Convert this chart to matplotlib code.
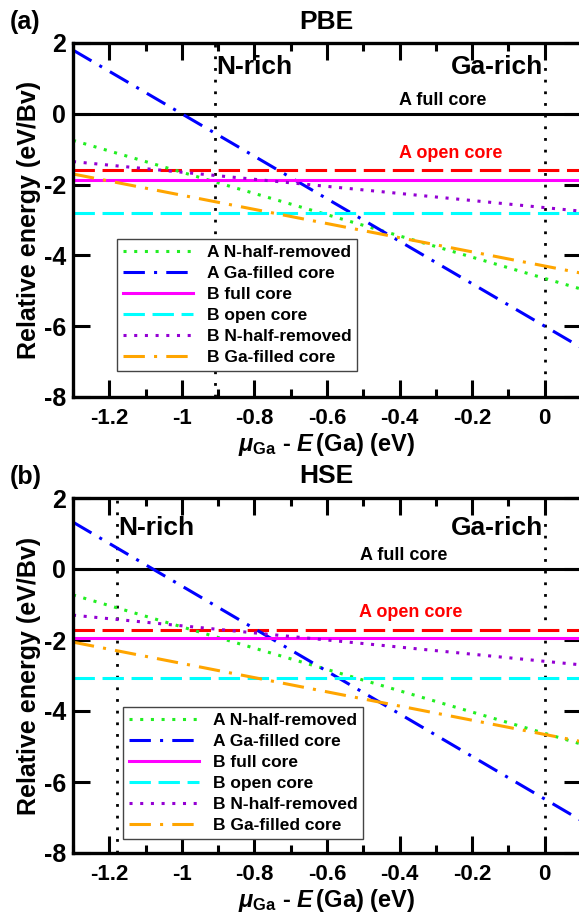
import numpy as np
import matplotlib
matplotlib.use("Agg")
import matplotlib.pyplot as plt
from matplotlib.ticker import MultipleLocator, FixedLocator

plt.rcParams['font.family'] = ['Liberation Sans', 'DejaVu Sans']
plt.rcParams['font.weight'] = 'bold'
plt.rcParams['axes.labelweight'] = 'bold'
plt.rcParams['axes.unicode_minus'] = False
plt.rcParams['mathtext.fontset'] = 'custom'
plt.rcParams['mathtext.rm'] = 'Liberation Sans:bold'
plt.rcParams['mathtext.bf'] = 'Liberation Sans:bold'
plt.rcParams['mathtext.it'] = 'Liberation Sans:italic'
plt.rcParams['mathtext.bfit'] = 'Liberation Sans:italic:bold'

# x range of the lines (chemical potential, eV)
x_ends = [-1.3, 0.1]

# PBE: energies at x = -1.3 and x = 0.1
pbe_a_full = [0.0, 0.0]
pbe_a_open = [-1.6, -1.6]
pbe_a_nhalf = [-0.75, -4.95]
pbe_a_gafill = [1.8, -6.6]
pbe_b_full = [-1.87, -1.87]
pbe_b_open = [-2.79, -2.79]
pbe_b_nhalf = [-1.35, -2.75]
pbe_b_gafill = [-1.7, -4.5]
pbe_nrich = -0.91

# HSE
hse_a_full = [0.0, 0.0]
hse_a_open = [-1.72, -1.72]
hse_a_nhalf = [-0.73, -4.93]
hse_a_gafill = [1.32, -7.08]
hse_b_full = [-1.93, -1.93]
hse_b_open = [-3.08, -3.08]
hse_b_nhalf = [-1.3, -2.7]
hse_b_gafill = [-2.06, -4.86]
hse_nrich = -1.18

x_ticks = [-1.2, -1.0, -0.8, -0.6, -0.4, -0.2, 0.0]
x_ticklabels = ['-1.2', '-1', '-0.8', '-0.6', '-0.4', '-0.2', '0']
y_ticks = [-8, -6, -4, -2, 0, 2]

lw = 2.2
dot = (0, (1, 2.5))
dash = (0, (7, 2.5))
dashdot = (0, (7, 3, 1, 3))

fig = plt.figure(figsize=(5.79, 9.15), dpi=100)
W, H = 579.0, 915.0


def panel(ax, d, nrich, full_xy, open_xy, nrich_xy, garich_xy, legend_pos):
    a_full, a_open, a_nhalf, a_gafill, b_full, b_open, b_nhalf, b_gafill = d
    ax.axvline(nrich, color='black', lw=2.0, ls=(0, (1, 3.2)))
    ax.axvline(0.0, color='black', lw=2.0, ls=(0, (1, 3.2)))
    ax.plot(x_ends, a_full, color='black', lw=lw, ls='-')
    ax.plot(x_ends, a_open, color='#ff0000', lw=lw, ls=dash)
    ax.plot(x_ends, a_nhalf, color='#22ee22', lw=lw, ls=dot, label='A N-half-removed')
    ax.plot(x_ends, a_gafill, color='#0000ff', lw=lw, ls=dashdot, label='A Ga-filled core')
    ax.plot(x_ends, b_full, color='#ff00ff', lw=lw, ls='-', label='B full core')
    ax.plot(x_ends, b_open, color='#00ffff', lw=lw, ls=dash, label='B open core')
    ax.plot(x_ends, b_nhalf, color='#9400d3', lw=lw, ls=dot, label='B N-half-removed')
    ax.plot(x_ends, b_gafill, color='#ffa500', lw=lw, ls=dashdot, label='B Ga-filled core')

    ax.text(full_xy[0], full_xy[1], 'A full core', fontsize=13, ha='center', va='center')
    ax.text(open_xy[0], open_xy[1], 'A open core', fontsize=13, ha='center', va='center',
            color='#ff0000')
    ax.text(nrich_xy[0], nrich_xy[1], 'N-rich', fontsize=19, ha='left', va='center')
    ax.text(garich_xy[0], garich_xy[1], 'Ga-rich', fontsize=19, ha='right', va='center')

    ax.set_xlim(-1.3, 0.1)
    ax.set_ylim(-8, 2)
    ax.xaxis.set_major_locator(FixedLocator(x_ticks))
    ax.set_xticklabels(x_ticklabels)
    ax.xaxis.set_minor_locator(MultipleLocator(0.1))
    ax.set_yticks(y_ticks)
    ax.tick_params(which='both', direction='in', top=True, right=True, width=2.2)
    ax.tick_params(which='major', length=12)
    ax.tick_params(which='minor', length=6)
    ax.tick_params(axis='x', labelsize=16, pad=8)
    ax.tick_params(axis='y', labelsize=18, pad=5)
    for s in ax.spines.values():
        s.set_linewidth(2.4)
    ax.set_ylabel('Relative energy (eV/Bv)', fontsize=18, labelpad=2)
    ax.set_xlabel(r'$\mu_{\mathrm{Ga}}$ - $\mathbfit{E}\,$(Ga) (eV)', fontsize=17, labelpad=1)
    leg = ax.legend(loc='upper left', bbox_to_anchor=legend_pos, fontsize=12.5,
                    handlelength=4.0, labelspacing=0.33, borderpad=0.35,
                    handletextpad=0.8, borderaxespad=0, fancybox=False,
                    framealpha=1, edgecolor='#444444')
    leg.get_frame().set_linewidth(1.0)


ax1 = fig.add_axes([73 / W, 1 - 397 / H, 508 / W, 354 / H])
panel(ax1, [pbe_a_full, pbe_a_open, pbe_a_nhalf, pbe_a_gafill,
            pbe_b_full, pbe_b_open, pbe_b_nhalf, pbe_b_gafill], pbe_nrich,
      (-0.28, 0.37), (-0.26, -1.13), (-0.905, 1.33), (-0.005, 1.33), (0.087, 0.446))

ax2 = fig.add_axes([73 / W, 1 - 853 / H, 508 / W, 355 / H])
panel(ax2, [hse_a_full, hse_a_open, hse_a_nhalf, hse_a_gafill,
            hse_b_full, hse_b_open, hse_b_nhalf, hse_b_gafill], hse_nrich,
      (-0.39, 0.37), (-0.37, -1.23), (-1.175, 1.16), (-0.005, 1.16), (0.099, 0.411))

fig.text(326 / W, 1 - 22 / H, 'PBE', fontsize=19, ha='center', va='center')
fig.text(10 / W, 1 - 22 / H, '(a)', fontsize=18, ha='left', va='center')
fig.text(326 / W, 1 - 476 / H, 'HSE', fontsize=19, ha='center', va='center')
fig.text(10 / W, 1 - 477 / H, '(b)', fontsize=18, ha='left', va='center')

fig.savefig('out.png', dpi=100)
